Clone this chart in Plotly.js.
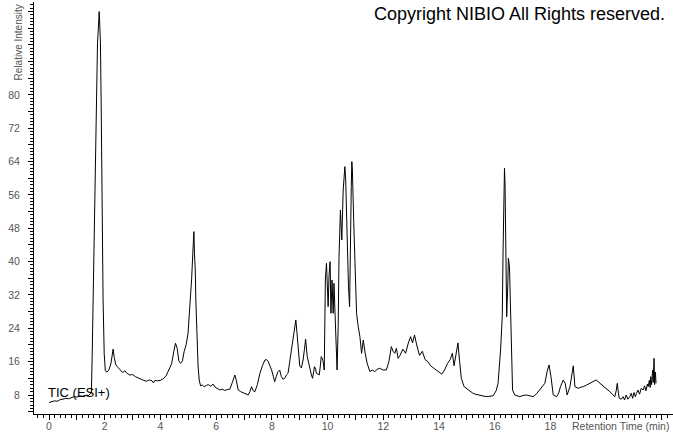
<!DOCTYPE html>
<html>
<head>
<meta charset="utf-8">
<script src="https://cdn.plot.ly/plotly-3.0.1.min.js"></script>
<style>html,body{margin:0;padding:0;background:#fff;}#chart{width:673px;height:433px;}</style>
</head>
<body>
<div id="chart"></div>
<script>
// Retention time (min)
const rtMin = [
0.00,0.10,0.20,0.30,0.40,0.50,0.60,0.70,0.80,0.90,1.00,1.10,1.20,1.30,1.40,1.48,1.52,1.55,1.58,1.64,
1.70,1.74,1.77,1.80,1.82,1.845,1.87,1.90,1.94,1.98,2.02,2.08,2.15,2.22,2.27,2.30,2.34,2.40,2.48,2.56,
2.64,2.72,2.80,2.90,3.00,3.10,3.20,3.30,3.40,3.50,3.60,3.70,3.75,3.80,3.90,4.00,4.10,4.20,4.30,4.40,
4.48,4.54,4.60,4.66,4.72,4.78,4.85,4.92,4.99,5.04,5.08,5.12,5.15,5.18,5.20,5.22,5.25,5.27,5.31,5.35,
5.39,5.44,5.50,5.57,5.65,5.72,5.80,5.89,5.96,6.05,6.13,6.22,6.30,6.40,6.49,6.58,6.67,6.72,6.79,6.88,
6.97,7.06,7.15,7.21,7.27,7.33,7.39,7.48,7.57,7.66,7.75,7.81,7.87,7.93,7.99,8.05,8.10,8.16,8.22,8.28,
8.34,8.40,8.46,8.52,8.58,8.64,8.70,8.76,8.80,8.86,8.90,8.94,9.00,9.06,9.12,9.17,9.21,9.27,9.32,9.36,
9.42,9.46,9.53,9.57,9.60,9.66,9.70,9.74,9.77,9.81,9.84,9.88,9.92,9.96,10.00,10.02,10.05,10.09,10.12,10.16,
10.20,10.23,10.27,10.29,10.32,10.34,10.38,10.41,10.46,10.51,10.56,10.60,10.62,10.65,10.70,10.75,10.79,10.82,10.85,10.87,
10.89,10.94,10.99,11.04,11.10,11.16,11.22,11.28,11.35,11.42,11.52,11.60,11.70,11.78,11.87,11.99,12.11,12.20,12.29,12.35,
12.41,12.47,12.53,12.60,12.70,12.80,12.90,12.98,13.05,13.12,13.20,13.30,13.40,13.50,13.60,13.70,13.80,13.90,14.00,14.10,
14.20,14.30,14.40,14.48,14.54,14.60,14.68,14.74,14.80,14.90,15.00,15.10,15.20,15.30,15.46,15.58,15.70,15.82,15.94,16.05,
16.12,16.21,16.27,16.30,16.33,16.35,16.37,16.40,16.43,16.47,16.49,16.53,16.57,16.60,16.64,16.72,16.80,16.90,17.02,17.14,
17.26,17.38,17.50,17.62,17.72,17.80,17.88,17.95,18.02,18.10,18.22,18.30,18.36,18.46,18.53,18.60,18.70,18.78,18.82,18.88,
19.00,19.10,19.18,19.30,19.42,19.53,19.64,19.71,19.78,19.87,19.95,20.04,20.13,20.22,20.31,20.36,20.40,20.44,20.47,20.54,
20.61,20.66,20.72,20.78,20.85,20.90,20.95,21.00,21.05,21.09,21.14,21.20,21.26,21.33,21.38,21.43,21.48,21.51,21.55,21.58,
21.60,21.63,21.67,21.69,21.72,21.74,21.75,21.77,21.79
];
// Relative intensity (%)
const relIntensity = [
6.2,6.4,6.6,6.5,6.9,7.0,7.2,7.1,7.4,7.6,7.5,7.8,7.7,7.9,7.8,8.2,8.5,18,30.8,54.8,
78.8,92.5,96,100,97,92.5,78.8,54.8,30.8,18,13.8,13.5,14,15.5,18.5,19.0,17,15.2,14.6,14.0,
13.4,13.8,13.2,12.8,12.9,12.4,12.0,11.8,11.5,11.3,11.6,11.4,10.9,11.5,11.4,11.5,11.9,12.6,14.0,15.5,
18.5,20.4,19.2,16.2,15.6,16.0,18.4,20,22.8,27,30.8,36,40.4,44,47.2,42,38,30.8,21.2,15,
11.6,10.2,10.4,10.0,10.3,10.5,10.1,10.6,9.9,9.5,9.2,9.4,9.1,9.3,9.4,11,12.8,11.6,9.2,8.8,
8.5,8.2,8.0,8.8,10.0,9.0,8.8,10.5,13.2,15,16.4,16.5,16.0,15,14,12.5,11.2,12.5,13.6,14,
12.4,11.8,12,12.8,13.2,16,19,21.2,22.8,26,23,20.4,15,14.5,16.4,19,21.4,17.2,15.5,14,
12.8,12,14.8,14.2,13.2,13.0,12.8,15,17.2,16.8,16,14,35.6,39.6,33,29.2,36.4,40,27.6,35.6,
27.6,34.8,27,22,16,14,24.4,41.2,52.4,45.2,57.2,61,62.8,59.6,45.2,34,29.2,49.2,58,64,
62,49.2,37.2,27.6,24.4,22,18,21.2,18,15.6,13.6,14,13.6,14.2,14.4,14,14,16,19.6,18.5,
18,19.2,16.8,17.5,19,18,20.5,22,20.5,22.4,20,17.5,18.5,16.5,16,15,14.5,14,13.5,13,
14,15.5,16.5,18,15,17,20.5,16,12,10,9.5,8.8,8.5,8.2,8,7.8,7.6,7.7,7.8,9,
10.8,18.8,26.8,42.8,54.8,62.4,58.8,42.8,26.8,34.8,40.8,38.8,26.8,18.8,9.2,8,7.9,7.6,7.9,8,
7.8,7.6,8.3,9.2,10,10.8,13.6,15.2,12.4,8,7.6,8.5,10,11.6,10.8,8,10,13.2,15,10,
9.6,9.9,10,10.4,10.8,11.2,11.6,11.2,10.8,10.4,10,9.4,8.8,8.2,7.6,9,10.8,8.5,7.2,7.0,
7.6,6.8,8.0,7.0,7.6,8.4,7.2,8.6,7.6,8.4,9.2,8.2,9.6,9.2,10.2,9.0,10.6,10,11.5,9.8,
12.4,10.5,14,11,16.8,10.5,11.6,13.5,10.8
];
// Tick labels
const xTickVals = [0,1,2,3,4,5,6,7,8,9,10,11,12,13,14,15,16,17,18,19,20,21,22];
const xTickText = ['0','','2','','4','','6','','8','','10','','12','','14','','16','','18','','','',''];
const yTickVals = [4,8,12,16,20,24,28,32,36,40,44,48,52,56,60,64,68,72,76,80,84,88,92,96,100];
const yTickText = ['','8','','16','','24','','32','','40','','48','','56','','64','','72','','80','','','','',''];

const trace = {
  x: rtMin, y: relIntensity, type: 'scatter', mode: 'lines',
  line: {color: '#000', width: 1}, hoverinfo: 'skip'
};
const tickFont = {family: 'Liberation Sans, Arial, sans-serif', size: 10.5, color: '#555'};
const layout = {
  width: 673, height: 433,
  margin: {l: 34, r: 0, t: 2, b: 19},
  paper_bgcolor: '#fff', plot_bgcolor: '#fff',
  showlegend: false,
  xaxis: {
    range: [-0.54, 22.4], showgrid: false, zeroline: false,
    showline: true, linecolor: '#000', linewidth: 1,
    tickmode: 'array', tickvals: xTickVals, ticktext: xTickText,
    ticks: 'outside', ticklen: 5, tickcolor: '#000', tickwidth: 1,
    ticklabelstandoff: -3,
    minor: {tickmode: 'linear', tick0: 0, dtick: 0.2, ticks: 'outside', ticklen: 3, tickcolor: '#000', tickwidth: 1, showgrid: false},
    tickfont: tickFont
  },
  yaxis: {
    range: [3.44, 102.3], showgrid: false, zeroline: false,
    showline: true, linecolor: '#000', linewidth: 1,
    tickmode: 'array', tickvals: yTickVals, ticktext: yTickText,
    ticks: 'outside', ticklen: 5, tickcolor: '#000', tickwidth: 1,
    ticklabelstandoff: 6,
    minor: {tickmode: 'linear', tick0: 0, dtick: 0.8, ticks: 'outside', ticklen: 3, tickcolor: '#000', tickwidth: 1, showgrid: false},
    tickfont: tickFont
  },
  annotations: [
    {text: 'Copyright NIBIO All Rights reserved.', xref: 'paper', yref: 'paper', x: 0.991, y: 0.972,
     xanchor: 'right', yanchor: 'middle', showarrow: false,
     font: {family: 'Liberation Sans, Arial, sans-serif', size: 18, color: '#000'}},
    {text: 'TIC (ESI+)', xref: 'x', yref: 'y', x: -0.1, y: 8.6, xanchor: 'left', yanchor: 'middle', showarrow: false,
     font: {family: 'Liberation Sans, Arial, sans-serif', size: 13, color: '#000'}},
    {text: 'Retention Time (min)', xref: 'paper', yref: 'paper', x: 0.997, y: -0.03,
     xanchor: 'right', yanchor: 'middle', showarrow: false,
     font: {family: 'Liberation Sans, Arial, sans-serif', size: 10.5, color: '#555'}},
    {text: 'Relative Intensity', xref: 'paper', yref: 'paper', x: -0.025, y: 0.902, textangle: -90,
     xanchor: 'center', yanchor: 'middle', showarrow: false,
     font: {family: 'Liberation Sans, Arial, sans-serif', size: 10, color: '#555'}}
  ]
};
Plotly.newPlot('chart', [trace], layout, {staticPlot: true, displayModeBar: false});
</script>
</body>
</html>
